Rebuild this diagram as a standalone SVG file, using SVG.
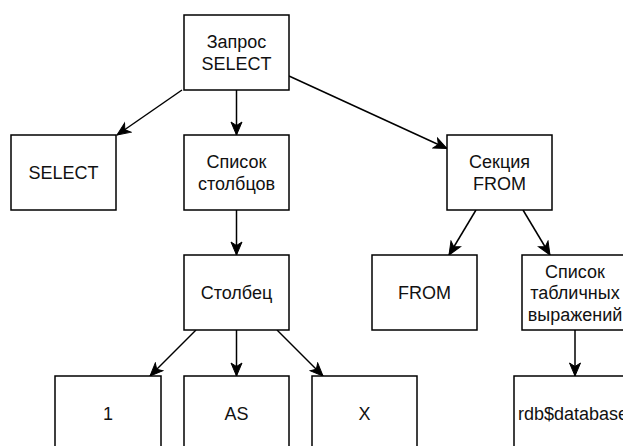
<svg xmlns="http://www.w3.org/2000/svg" width="623" height="446" viewBox="0 0 623 446">
<defs>
<style>
.box{fill:#fff;stroke:#000;stroke-width:1.5}
.lbl{font-family:"Liberation Sans",Arial,sans-serif;font-size:18px;fill:#111;text-anchor:middle}
.edge{fill:none;stroke:#000;stroke-width:1.5}
</style>
<marker id="arr" markerUnits="userSpaceOnUse" markerWidth="16" markerHeight="14" viewBox="-14 -7 16 14" refX="0" refY="0" orient="auto">
<path d="M0,0 L-13,-5.5 L-9.5,0 L-13,5.5 Z" fill="#000" stroke="#000" stroke-width="1"/>
</marker>
</defs>
<rect width="623" height="446" fill="#fff"/>
<g id="connectors">
<line class="edge" x1="182" y1="90" x2="117" y2="135" marker-end="url(#arr)"/>
<line class="edge" x1="236.5" y1="90" x2="236.5" y2="135" marker-end="url(#arr)"/>
<line class="edge" x1="289" y1="76" x2="447" y2="148.5" marker-end="url(#arr)"/>
<line class="edge" x1="236.5" y1="210" x2="236.5" y2="255" marker-end="url(#arr)"/>
<line class="edge" x1="476" y1="210" x2="449" y2="255" marker-end="url(#arr)"/>
<line class="edge" x1="523" y1="210" x2="550" y2="255" marker-end="url(#arr)"/>
<line class="edge" x1="196" y1="330" x2="150" y2="376" marker-end="url(#arr)"/>
<line class="edge" x1="236.5" y1="330" x2="236.5" y2="376" marker-end="url(#arr)"/>
<line class="edge" x1="277" y1="330" x2="323" y2="376" marker-end="url(#arr)"/>
<line class="edge" x1="575" y1="330" x2="575" y2="376" marker-end="url(#arr)"/>
</g>
<g id="query"><rect class="box" x="184" y="15" width="105" height="75"/><text class="lbl" x="236.5" y="48">Запрос</text><text class="lbl" x="236.5" y="69.5">SELECT</text></g>
<g id="select"><rect class="box" x="11" y="135" width="105" height="75"/><text class="lbl" x="63.5" y="179">SELECT</text></g>
<g id="columns"><rect class="box" x="184" y="135" width="105" height="75"/><text class="lbl" x="236.5" y="168">Список</text><text class="lbl" x="236.5" y="189.5">столбцов</text></g>
<g id="fromsection"><rect class="box" x="447" y="135" width="105" height="75"/><text class="lbl" x="499.5" y="168">Секция</text><text class="lbl" x="499.5" y="189.5">FROM</text></g>
<g id="column"><rect class="box" x="184" y="255" width="105" height="75"/><text class="lbl" x="236.5" y="299">Столбец</text></g>
<g id="from"><rect class="box" x="372" y="255" width="105" height="75"/><text class="lbl" x="424.5" y="299">FROM</text></g>
<g id="tables"><rect class="box" x="522" y="255" width="106" height="75"/><text class="lbl" x="575" y="277.5">Список</text><text class="lbl" x="575" y="299">табличных</text><text class="lbl" x="575" y="320.5">выражений</text></g>
<g id="one"><rect class="box" x="55" y="376" width="106" height="75"/><text class="lbl" x="108" y="420">1</text></g>
<g id="as"><rect class="box" x="184" y="376" width="105" height="75"/><text class="lbl" x="236.5" y="420">AS</text></g>
<g id="x"><rect class="box" x="312" y="376" width="105" height="75"/><text class="lbl" x="364.5" y="420">X</text></g>
<g id="rdb"><rect class="box" x="514" y="376" width="122" height="75"/><text class="lbl" x="573" y="420">rdb$database</text></g>
</svg>
